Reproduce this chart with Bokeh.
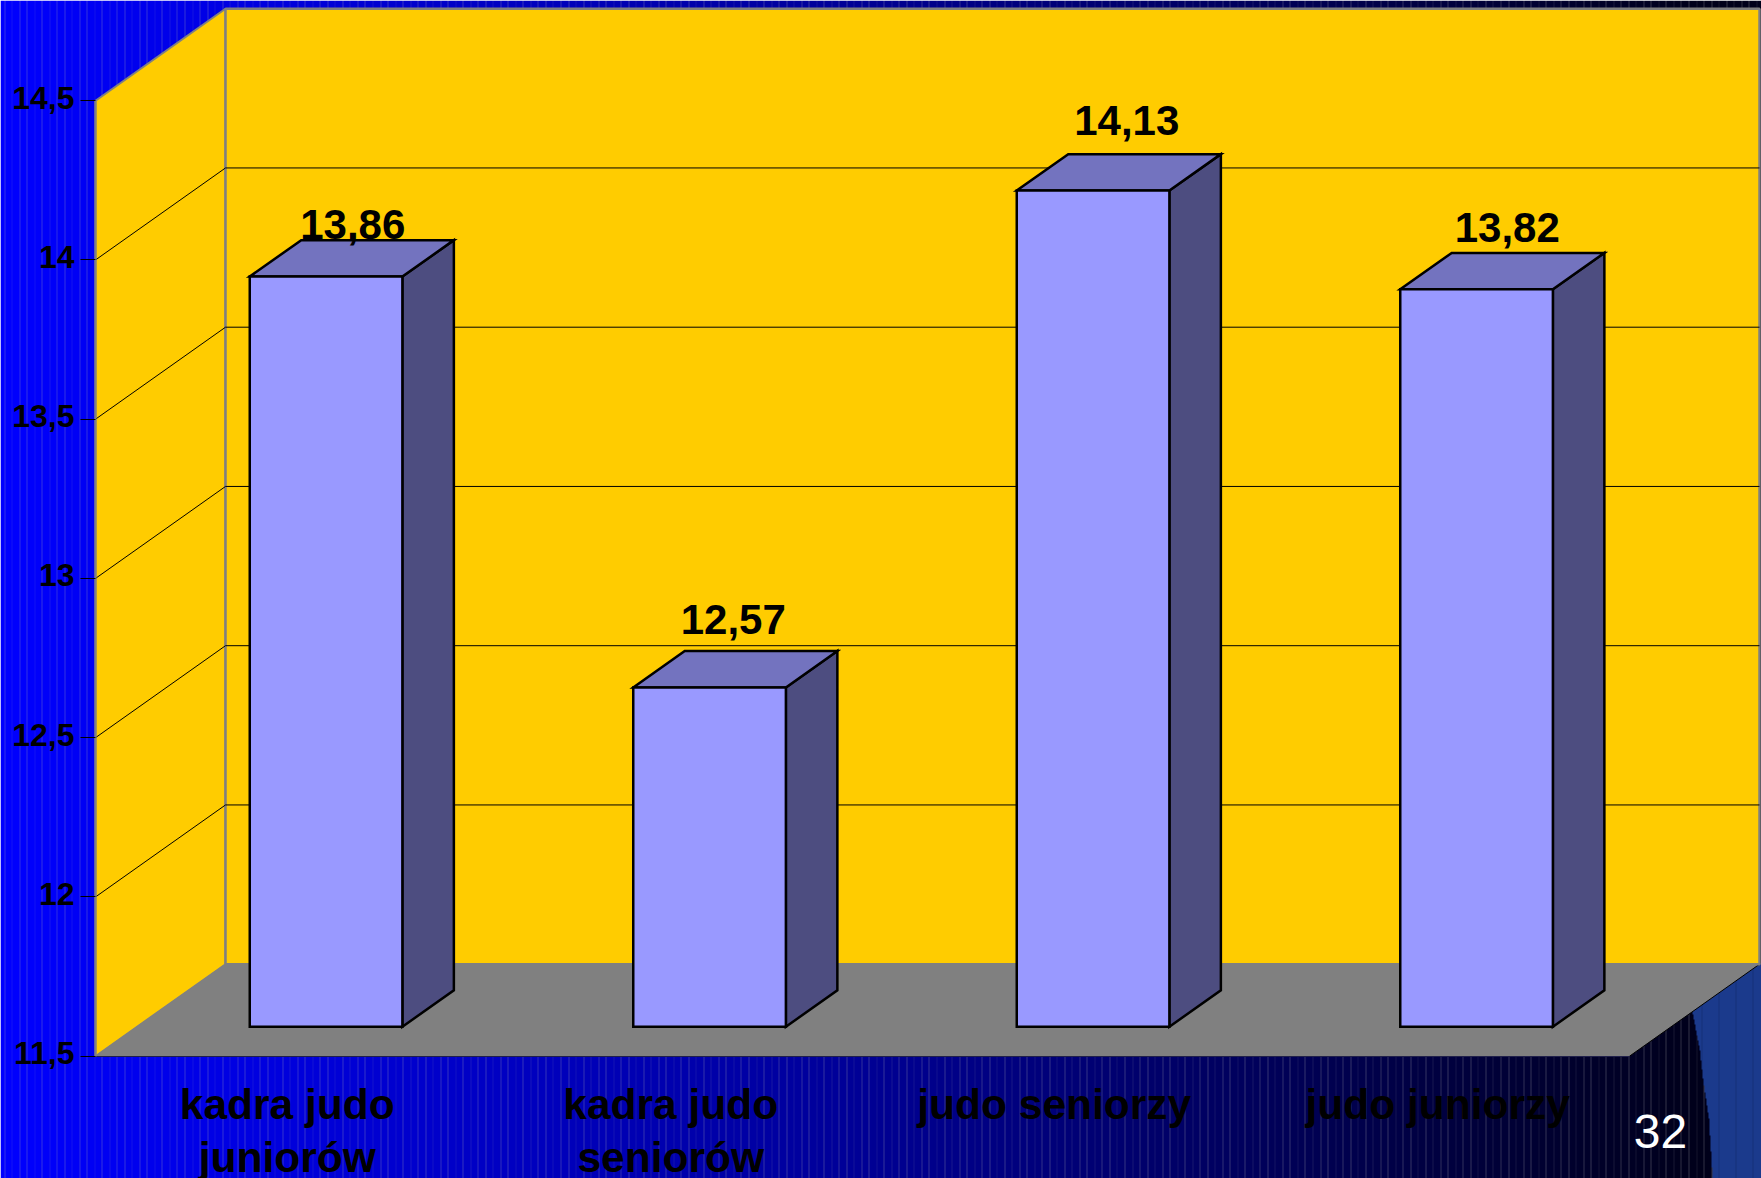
import numpy as np
from bokeh.embed import file_html
from bokeh.resources import INLINE
from bokeh.core.properties import value
from bokeh.models import (ColumnDataSource, FixedTicker, LinearAxis, Range1d)
from bokeh.plotting import figure

# chart data
categories = ["kadra judo\njuniorów", "kadra judo\nseniorów", "judo seniorzy", "judo juniorzy"]
scores = [13.86, 12.57, 14.13, 13.82]
score_labels = ["13,86", "12,57", "14,13", "13,82"]
y_ticks = [11.5, 12, 12.5, 13, 13.5, 14, 14.5]
y_tick_labels = ["11,5", "12", "12,5", "13", "13,5", "14", "14,5"]
page_number = "32"

W, H = 1761, 1178
FONT = "Liberation Sans"

# plot scales: one category slot and one value unit, in screen pixels
SLOT_PX = 383.5
UNIT_PX = 318.5
ORIGIN_X = 95.0
ORIGIN_Y = 1055.7
Y_MIN = 11.5
Y_MAX = 14.5
N = len(categories)

x_range = Range1d(-ORIGIN_X / SLOT_PX, (W - ORIGIN_X) / SLOT_PX)
y_range = Range1d(Y_MIN - (H - ORIGIN_Y) / UNIT_PX, Y_MIN + ORIGIN_Y / UNIT_PX)

# oblique projection of the chart's depth axis, in data units
DEPTH_X = 130.0 / SLOT_PX
DEPTH_Y = 92.0 / UNIT_PX
BAR_WIDTH = 0.398
BAR_FRONT = 0.304
BAR_BACK = 0.70
BAR_SHIFT_X = -0.7 / SLOT_PX
BAR_LIFT = 1.5 / UNIT_PX


def px_x(col):
    return col / SLOT_PX + x_range.start


def px_y(row):
    return Y_MIN + (ORIGIN_Y - row) / UNIT_PX


def slide_background():
    """Navy-to-blue backdrop with fine vertical pinstripes and the corner swoosh."""
    xs = np.arange(W, dtype=float)
    ys = np.arange(H, dtype=float)
    base = np.interp(xs, [0, 120, 800, 1450, 1700], [255, 240, 158, 62, 26])
    strength = np.zeros(W)
    pattern = [0.30, 0.12, 0.28, 0.30, 0.10, 0.30, 0.14, 0.26]
    for k, col in enumerate(np.arange(4.0, W, 7.52)):
        strength[int(col)] = pattern[k % len(pattern)]
    red_green = 175.0 * strength
    blue = base * (1 - strength) + 175.0 * strength

    rgb = np.zeros((H, W, 3))
    rgb[:, :, 0] = red_green
    rgb[:, :, 1] = red_green
    rgb[:, :, 2] = blue

    # lighter swoosh in the bottom-right corner
    edge = np.interp(ys, [963, 1011.7, 1050, 1078, 1118, 1178],
                     [1680, 1691.7, 1699, 1702, 1708, 1711.7])
    tone = np.array([27.0, 58.0, 140.0])
    for row in range(963, H):
        cols = xs > edge[row]
        rgb[row, cols] = tone
        stripe = cols & (np.mod(xs - 1650, 17.0) < 1.0)
        rgb[row, stripe] = [21.0, 48.0, 120.0]

    rgb = rgb[::-1].round().astype(np.uint32)
    return (255 << 24) | (rgb[:, :, 2] << 16) | (rgb[:, :, 1] << 8) | rgb[:, :, 0]


p = figure(width=W, height=H, x_range=x_range, y_range=y_range,
           x_axis_type=None, y_axis_type=None, toolbar_location=None,
           output_backend="svg", min_border=0, outline_line_color=None)
p.grid.visible = False

p.image_rgba(image=[slide_background()], x=x_range.start, y=y_range.start,
             dw=x_range.end - x_range.start, dh=y_range.end - y_range.start)

GRAY = "#808080"
WALL = "#FFCC00"

# floor
p.patch([0, N, N + DEPTH_X, DEPTH_X],
        [Y_MIN, Y_MIN, Y_MIN + DEPTH_Y, Y_MIN + DEPTH_Y],
        fill_color=GRAY, line_color=None)
p.line([N, N + DEPTH_X], [Y_MIN, Y_MIN + DEPTH_Y], line_color="#000000", line_width=1)

# side and back walls
p.patch([0, DEPTH_X, DEPTH_X, 0],
        [Y_MIN, Y_MIN + DEPTH_Y, Y_MAX + DEPTH_Y, Y_MAX],
        fill_color=WALL, line_color=GRAY, line_width=2)
p.quad(left=DEPTH_X, right=N + DEPTH_X, bottom=Y_MIN + DEPTH_Y, top=Y_MAX + DEPTH_Y,
       fill_color=WALL, line_color=GRAY, line_width=2.5)
p.line([0, DEPTH_X, N + DEPTH_X], [Y_MIN, Y_MIN + DEPTH_Y, Y_MIN + DEPTH_Y],
       line_color=GRAY, line_width=1)

# gridlines across both walls
inner_ticks = [t for t in y_ticks if Y_MIN < t < Y_MAX]
p.multi_line(xs=[[0, DEPTH_X, N + DEPTH_X] for _ in inner_ticks],
             ys=[[t, t + DEPTH_Y, t + DEPTH_Y] for t in inner_ticks],
             line_color="#000000", line_width=1)

# 3D bars: side face, top face, front face
EDGE = dict(line_color="#000000", line_width=2.5, line_join="miter")
for i, v in enumerate(scores):
    x0 = i + 0.5 - BAR_WIDTH / 2 + BAR_FRONT * DEPTH_X + BAR_SHIFT_X
    x1 = x0 + BAR_WIDTH
    y0 = Y_MIN + BAR_FRONT * DEPTH_Y + BAR_LIFT
    y1 = v + BAR_FRONT * DEPTH_Y
    dx = (BAR_BACK - BAR_FRONT) * DEPTH_X
    dy = (BAR_BACK - BAR_FRONT) * DEPTH_Y
    p.patch([x1, x1 + dx, x1 + dx, x1], [y0, y0 + dy, y1 + dy, y1],
            fill_color="#4D4D80", **EDGE)
    p.patch([x0, x1, x1 + dx, x0 + dx], [y1, y1, y1 + dy, y1 + dy],
            fill_color="#7373BF", **EDGE)
    p.quad(left=x0, right=x1, bottom=y0, top=y1, fill_color="#9999FF", **EDGE)

# value labels, placed relative to each bar's front top edge
label_source = ColumnDataSource(dict(
    x=[i + 0.5 + BAR_FRONT * DEPTH_X for i in range(N)],
    y=[v + BAR_FRONT * DEPTH_Y for v in scores],
    text=score_labels,
    dx=[26, 23, 33, 30],
    dy=[-52, -68, -70, -62],
))
p.text(x="x", y="y", text="text", x_offset="dx", y_offset="dy", source=label_source,
       text_font=value(FONT), text_font_style="bold", text_font_size="42px",
       text_color="#000000", text_align="center", text_baseline="alphabetic")

# value axis on the front edge of the side wall; its labels sit slightly above the ticks
y_axis = LinearAxis(fixed_location=0, bounds=(Y_MIN, Y_MAX),
                    ticker=FixedTicker(ticks=y_ticks),
                    major_label_overrides={t: "" for t in y_ticks},
                    axis_line_color=GRAY, axis_line_width=2,
                    major_tick_in=0, major_tick_out=15,
                    major_tick_line_color="#000000", major_tick_line_width=1,
                    minor_tick_line_color=None)
p.add_layout(y_axis, "left")
p.text(x=[0] * len(y_ticks), y=y_ticks, text=y_tick_labels,
       x_offset=-21, y_offset=-3,
       text_font=value(FONT), text_font_style="bold", text_font_size="32px",
       text_color="#000000", text_align="right", text_baseline="middle")

# category axis along the front edge of the floor
slot_centres = [i + 0.5 for i in range(N)]
x_axis = LinearAxis(fixed_location=Y_MIN, bounds=(0, N),
                    ticker=FixedTicker(ticks=slot_centres),
                    major_label_overrides=dict(zip(slot_centres, categories)),
                    axis_line_color="#20204a", axis_line_width=1,
                    major_tick_line_color=None, minor_tick_line_color=None,
                    major_tick_in=0, major_tick_out=0,
                    major_label_standoff=25,
                    major_label_text_font=FONT, major_label_text_font_style="bold",
                    major_label_text_font_size="42.5px", major_label_text_color="#000000",
                    major_label_text_line_height=1.12)
p.add_layout(x_axis, "below")

# slide number
p.text(x=[px_x(1660)], y=[px_y(1131)], text=[page_number],
       text_font=value(FONT), text_font_size="48px", text_color="#FFFFFF",
       text_align="center", text_baseline="alphabetic")

open("out.html", "w").write(file_html(p, INLINE))
